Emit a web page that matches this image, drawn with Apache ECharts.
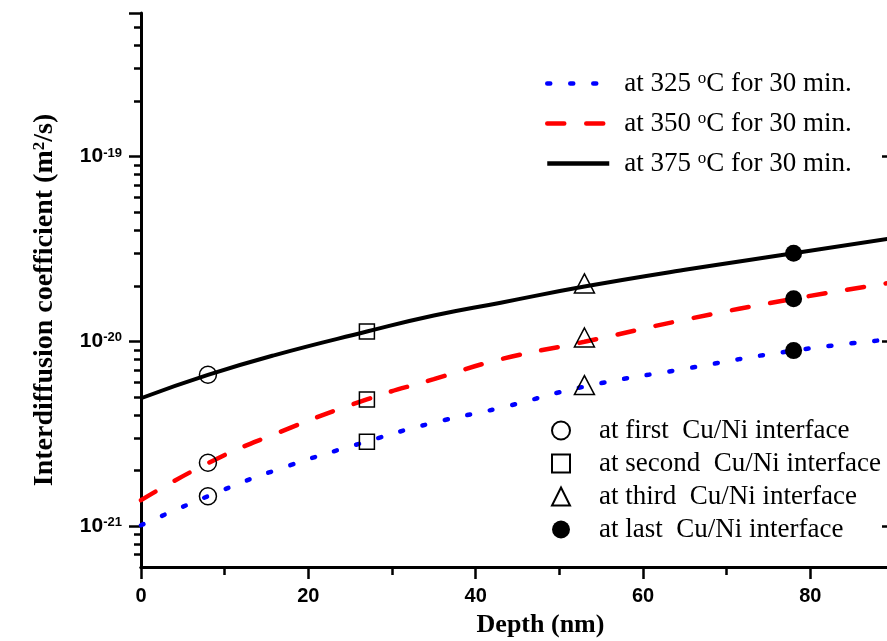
<!DOCTYPE html>
<html>
<head>
<meta charset="utf-8">
<script src="https://cdn.jsdelivr.net/npm/echarts@6/dist/echarts.min.js"></script>
<style>
    html, body { margin: 0; padding: 0; background: #fff; }
    #chart { width: 887px; height: 641px; }
</style>
</head>
<body>
<div id="chart"></div>
<script>
// depth (nm) sampled along the fitted curves
var depth = [0, 8, 16, 27, 35, 43, 53, 65, 78, 90];
var d325 = [1.01e-21, 1.45e-21, 2.0e-21, 2.87e-21, 3.63e-21, 4.37e-21, 5.69e-21, 7.1e-21, 8.91e-21, 1.03e-20];
var d350 = [1.38e-21, 2.19e-21, 3.15e-21, 4.85e-21, 6.24e-21, 8.0e-21, 9.95e-21, 1.31e-20, 1.70e-20, 2.09e-20];
var d375 = [4.92e-21, 6.58e-21, 8.43e-21, 1.13e-20, 1.38e-20, 1.62e-20, 1.98e-20, 2.44e-20, 3.0e-20, 3.63e-20];

// measured points at each Cu/Ni interface (375, 350, 325 °C)
var firstX = 8, firstD = [6.6e-21, 2.2e-21, 1.45e-21];
var secondX = 27, secondD = [1.13e-20, 4.85e-21, 2.86e-21];
var thirdX = 53, thirdD = [2.06e-20, 1.05e-20, 5.8e-21];
var lastX = 78, lastD = [3.0e-20, 1.70e-20, 8.91e-21];

var lineNames = ['at 325 °C for 30 min.', 'at 350 °C for 30 min.', 'at 375 °C for 30 min.'];
var pointNames = ['at first  Cu/Ni interface', 'at second  Cu/Ni interface', 'at third  Cu/Ni interface', 'at last  Cu/Ni interface'];

var xLabels = [0, 20, 40, 60, 80];
var majorY = [1e-21, 1e-20, 1e-19];
var yMin = 6e-22, yMax = 6e-19;
var minorY = [];
[1e-22, 1e-21, 1e-20, 1e-19].forEach(function(dec) {
    for (var k = 2; k <= 9; k++) {
        var v = k * dec;
        if (v > yMin * 1.001 && v < yMax * 0.999) minorY.push(v);
    }
});

function pairs(xs, ys) {
    return xs.map(function(x, i) { return [x, ys[i]]; });
}
function pts(x, ys) {
    return ys.map(function(y) { return [x, y]; });
}

var serif = '"Liberation Serif", "Times New Roman", serif';
var sans = '"Liberation Sans", Arial, sans-serif';

var hollow = { color: 'rgba(0,0,0,0)', borderColor: '#000', borderWidth: 1.5, opacity: 1 };

var chart = echarts.init(document.getElementById('chart'));
chart.setOption({
    animation: false,
    backgroundColor: '#fff',
    grid: { left: 141, top: 13, right: -7, bottom: 74, containLabel: false, outerBoundsMode: 'none' },
    legend: [{
        data: lineNames,
        orient: 'vertical',
        left: 545, top: 70,
        padding: 0,
        itemWidth: 62, itemHeight: 14, itemGap: 13,
        selectedMode: false,
        itemStyle: { color: 'rgba(0,0,0,0)', borderWidth: 0, opacity: 0 },
        lineStyle: { width: 4.5 },
        formatter: function(name) {
            return '{t|' + name.replace('°C', '}{s|o}{t|C') + '}';
        },
        textStyle: {
            padding: [0, 0, 0, 10],
            rich: {
                t: { fontFamily: serif, fontSize: 27, lineHeight: 27, color: '#000' },
                s: { fontFamily: serif, fontSize: 17, lineHeight: 11, verticalAlign: 'top', color: '#000' }
            }
        }
    }, {
        data: pointNames,
        orient: 'vertical',
        left: 551, top: 417,
        padding: 0,
        itemWidth: 18, itemHeight: 18, itemGap: 6,
        selectedMode: false,
        textStyle: { fontFamily: serif, fontSize: 27, lineHeight: 27, color: '#000', padding: [0, 0, 0, 24] }
    }],
    xAxis: [{
        type: 'value', position: 'bottom',
        min: 0, max: 90, interval: 20,
        name: 'Depth (nm)', nameLocation: 'middle', nameGap: 45,
        nameTextStyle: { fontFamily: serif, fontSize: 26, fontWeight: 'bold', color: '#000', padding: [0, 0, 0, 46] },
        axisLine: { lineStyle: { color: '#000', width: 3 } },
        axisTick: { inside: false, length: 12, lineStyle: { width: 2.5 } },
        minorTick: { show: true, splitNumber: 2, length: 8, lineStyle: { color: '#000', width: 2.5 } },
        axisLabel: { margin: 19, customValues: xLabels, fontFamily: sans, fontSize: 20, fontWeight: 'bold', color: '#000' },
        splitLine: { show: false }
    }, {
        type: 'value', position: 'top',
        min: 0, max: 90, interval: 20,
        axisLine: { lineStyle: { color: '#000', width: 3 } },
        axisTick: { inside: true, length: 12, lineStyle: { width: 2.5 } },
        minorTick: { show: true, splitNumber: 2, length: 6, lineStyle: { color: '#000', width: 2.5 } },
        axisLabel: { show: false },
        splitLine: { show: false }
    }],
    yAxis: [{
        type: 'log', position: 'left',
        min: yMin, max: yMax,
        name: '{t|Interdiffusion coefficient (m}{s|2}{t|/s)}',
        nameLocation: 'middle', nameGap: 82,
        nameTextStyle: {
            padding: [0, 20, 0, 0],
            rich: {
                t: { fontFamily: serif, fontSize: 28, fontWeight: 'bold', lineHeight: 28, color: '#000' },
                s: { fontFamily: serif, fontSize: 17, fontWeight: 'bold', lineHeight: 14, verticalAlign: 'top', color: '#000' }
            }
        },
        axisLine: { show: true, lineStyle: { color: '#000', width: 3 } },
        axisTick: { show: true, inside: false, length: 12, customValues: majorY.concat([yMax]), lineStyle: { width: 2.5 } },
        axisLabel: {
            margin: 19,
            customValues: majorY,
            formatter: function(v) {
                return '{b|10}{s|' + Math.round(Math.log10(v)) + '}';
            },
            rich: {
                b: { fontFamily: sans, fontSize: 21, fontWeight: 'bold', lineHeight: 20, padding: [8, 0, 8, 0], color: '#000' },
                s: { fontFamily: sans, fontSize: 13, fontWeight: 'bold', lineHeight: 14, verticalAlign: 'top', color: '#000' }
            }
        },
        splitLine: { show: false }
    }, {
        // minor ticks of the left log axis
        type: 'log', position: 'left',
        min: yMin, max: yMax,
        axisLine: { show: false },
        axisTick: { show: true, inside: false, length: 7, customValues: minorY, lineStyle: { color: '#000', width: 2.5 } },
        axisLabel: { show: false },
        splitLine: { show: false }
    }, {
        type: 'log', position: 'right',
        min: yMin, max: yMax,
        axisLine: { show: true, lineStyle: { color: '#000', width: 3 } },
        axisTick: { show: true, inside: true, length: 12, customValues: majorY, lineStyle: { width: 2.5 } },
        axisLabel: { show: false },
        splitLine: { show: false }
    }],
    series: [{
        name: lineNames[0], type: 'line', smooth: true, symbol: 'none',
        data: pairs(depth, d325),
        lineStyle: { color: '#0000ff', width: 4.5, type: [3, 20], cap: 'round' },
        itemStyle: { color: '#0000ff' }
    }, {
        name: lineNames[1], type: 'line', smooth: true, symbol: 'none',
        data: pairs(depth, d350),
        lineStyle: { color: '#ff0000', width: 4.5, type: [17, 22], cap: 'round' },
        itemStyle: { color: '#ff0000' }
    }, {
        name: lineNames[2], type: 'line', smooth: true, symbol: 'none',
        data: pairs(depth, d375),
        lineStyle: { color: '#000', width: 4 },
        itemStyle: { color: '#000' }
    }, {
        name: pointNames[0], type: 'scatter', symbol: 'circle', symbolSize: 17,
        data: pts(firstX, firstD), itemStyle: hollow, z: 5
    }, {
        name: pointNames[1], type: 'scatter', symbol: 'rect', symbolSize: 15,
        data: pts(secondX, secondD), itemStyle: hollow, z: 5
    }, {
        name: pointNames[2], type: 'scatter', symbol: 'triangle', symbolSize: [20, 19],
        data: pts(thirdX, thirdD), itemStyle: hollow, z: 5
    }, {
        name: pointNames[3], type: 'scatter', symbol: 'circle', symbolSize: 17,
        data: pts(lastX, lastD), itemStyle: { color: '#000', opacity: 1 }, z: 5
    }]
});
</script>
</body>
</html>
